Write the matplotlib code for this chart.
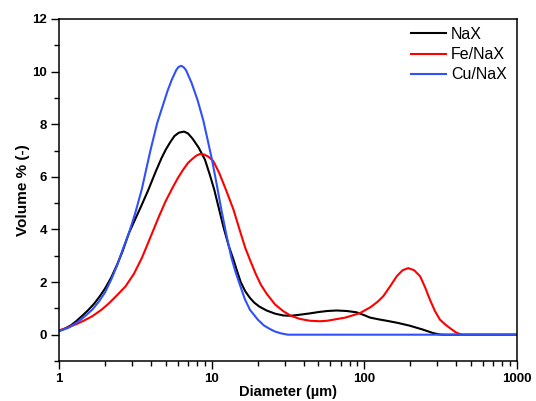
import numpy as np
import matplotlib
matplotlib.use("Agg")
import matplotlib.pyplot as plt
from matplotlib.ticker import LogLocator, MultipleLocator, FixedLocator, NullFormatter

# ---------------- DATA ----------------
nax_d = [1.0, 1.1, 1.2, 1.3, 1.42, 1.55, 1.7, 1.85, 2.0, 2.2, 2.41, 2.6, 2.87, 3.15, 3.45,
         3.85, 4.3, 4.7, 5.0, 5.33, 5.7, 6.1, 6.59, 7.0, 7.5, 8.2, 9.04, 9.7, 10.4, 11.2,
         12.0, 12.9, 13.9, 14.7, 15.5, 16.6, 17.8, 19.0, 20.5, 22.9, 26.0, 29.5, 33.0, 37.9,
         44.0, 50.0, 57.0, 65.9, 77.0, 89.0, 100.0, 109.0, 125.0, 140.0, 165.0, 199.0,
         240.0, 283.0, 310.0, 329.0, 1000.0]
nax_v = [0.15, 0.24, 0.36, 0.52, 0.72, 0.93, 1.18, 1.46, 1.75, 2.18, 2.68, 3.15, 3.86, 4.38, 4.88,
         5.51, 6.2, 6.72, 7.03, 7.3, 7.55, 7.68, 7.72, 7.65, 7.45, 7.12, 6.65, 6.1, 5.51, 4.75,
         4.05, 3.4, 2.85, 2.4, 2.0, 1.65, 1.4, 1.22, 1.07, 0.92, 0.8, 0.73, 0.72, 0.76,
         0.81, 0.86, 0.9, 0.92, 0.9, 0.85, 0.74, 0.65, 0.58, 0.53, 0.45, 0.34,
         0.2, 0.06, 0.01, 0.0, 0.0]

fe_d = [1.0, 1.15, 1.3, 1.45, 1.65, 1.9, 2.13, 2.4, 2.73, 3.1, 3.51, 4.0, 4.52, 5.0, 5.56,
        6.0, 6.5, 7.0, 7.4, 7.9, 8.39, 8.9, 9.5, 10.25, 11.2, 12.4, 13.9, 15.5, 16.6, 17.8,
        19.5, 21.0, 22.9, 26.0, 29.5, 33.0, 37.8, 44.0, 51.2, 57.0, 62.6, 75.0, 93.6, 110.0,
        122.0, 133.0, 148.0, 163.0, 178.0, 194.0, 212.0, 232.0, 250.0, 269.0, 290.0,
        313.0, 340.0, 364.0, 395.0, 423.0, 440.0, 1000.0]
fe_v = [0.15, 0.28, 0.4, 0.53, 0.7, 0.95, 1.2, 1.5, 1.84, 2.32, 2.95, 3.75, 4.5, 5.08, 5.6,
        5.95, 6.27, 6.53, 6.66, 6.8, 6.87, 6.85, 6.77, 6.6, 6.15, 5.51, 4.75, 3.85, 3.3, 2.85,
        2.29, 1.9, 1.56, 1.15, 0.89, 0.72, 0.6, 0.53, 0.51, 0.53, 0.57, 0.65, 0.82, 1.05,
        1.25, 1.46, 1.85, 2.22, 2.45, 2.53, 2.45, 2.22, 1.8, 1.33, 0.9,
        0.57, 0.38, 0.25, 0.1, 0.02, 0.0, 0.0]

cu_d = [1.0, 1.15, 1.3, 1.45, 1.65, 1.82, 2.0, 2.2, 2.41, 2.6, 2.87, 3.15, 3.48, 3.98, 4.4,
        4.83, 5.15, 5.47, 5.85, 6.05, 6.3, 6.55, 6.8, 7.4, 8.1, 8.81, 9.4, 10.05, 10.8, 11.6,
        12.5, 13.5, 14.4, 15.3, 16.5, 17.8, 20.0, 22.0, 24.0, 26.0, 28.5, 31.6, 1000.0]
cu_v = [0.13, 0.26, 0.45, 0.66, 0.95, 1.25, 1.6, 2.1, 2.66, 3.2, 3.86, 4.6, 5.51, 7.03, 8.05,
        8.78, 9.28, 9.68, 10.05, 10.17, 10.22, 10.17, 10.05, 9.56, 8.9, 8.15, 7.42, 6.65, 5.7,
        4.72, 3.78, 2.9, 2.35, 1.9, 1.35, 0.95, 0.58, 0.35, 0.22, 0.12, 0.05, 0.0, 0.0]

labels = ["NaX", "Fe/NaX", "Cu/NaX"]
colors = ["black", "#ff0000", "#3050f8"]
# ---------------------------------------------------------------

plt.rcParams['font.family'] = ['Liberation Sans', 'DejaVu Sans']

fig = plt.figure(figsize=(5.36, 4.01), dpi=100)
ax = fig.add_axes([59/536, 40/401, (517-59)/536, (361-19)/401])

for d, v, lab, c in zip([nax_d, fe_d, cu_d], [nax_v, fe_v, cu_v], labels, colors):
    ax.plot(d, v, color=c, lw=1.5, label=lab, solid_joinstyle='round')

ax.set_xscale('log')
ax.set_xlim(1, 1000)
ax.set_ylim(-1, 12)

ax.yaxis.set_major_locator(FixedLocator([0, 2, 4, 6, 8, 10, 12]))
ax.yaxis.set_minor_locator(MultipleLocator(1))
ax.xaxis.set_minor_locator(LogLocator(base=10, subs=np.arange(2, 10)))
ax.xaxis.set_minor_formatter(NullFormatter())
ax.set_xticks([1, 10, 100, 1000])
ax.set_xticklabels(["1", "10", "100", "1000"])

ax.tick_params(which='major', direction='out', length=6, width=1.0, labelsize=9.5, pad=2.5)
ax.tick_params(which='minor', direction='out', length=3.5, width=1.0)
for lbl in ax.get_xticklabels() + ax.get_yticklabels():
    lbl.set_fontweight('bold')
for s in ax.spines.values():
    s.set_linewidth(1.1)

ax.set_xlabel("Diameter (\u00b5m)", fontsize=10.5, fontweight='bold', labelpad=0)
ax.set_ylabel("Volume % (-)", fontsize=11, fontweight='bold', labelpad=2)

ax.legend(loc='upper left', bbox_to_anchor=(411/536, 1-27/401), bbox_transform=fig.transFigure,
          frameon=False, fontsize=11.5, handlelength=2.2, handletextpad=0.3,
          labelspacing=0.32, borderpad=0, borderaxespad=0)

fig.savefig("out.png", dpi=100)
